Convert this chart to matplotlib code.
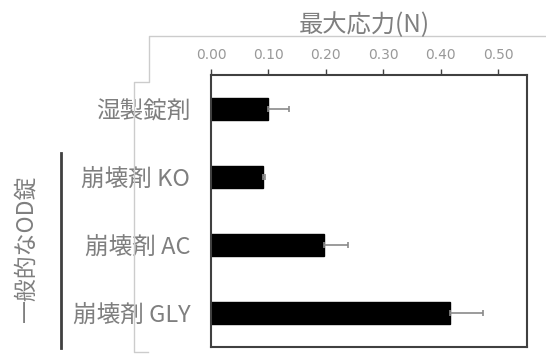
import matplotlib
matplotlib.use("Agg")
import matplotlib.pyplot as plt
from matplotlib.lines import Line2D

plt.rcParams['font.family'] = ['Noto Sans CJK JP', 'DejaVu Sans']

categories = ["湿製錠剤", "崩壊剤 KO", "崩壊剤 AC", "崩壊剤 GLY"]
max_stress = [0.10, 0.091, 0.197, 0.416]
stress_err = [0.035, 0.003, 0.041, 0.057]
tick_values = [0.00, 0.10, 0.20, 0.30, 0.40, 0.50]
tick_labels = ["0.00", "0.10", "0.20", "0.30", "0.40", "0.50"]
axis_title = "最大応力(N)"
group_label = "一般的なOD錠"

W, H = 546, 354
fig = plt.figure(figsize=(W / 100, H / 100), dpi=100)
ax = fig.add_axes([211 / W, 1 - 347 / H, 316 / W, 272 / H])

ypos = list(range(len(categories)))
ax.barh(ypos, max_stress, height=0.31, color="black", edgecolor="black")
ax.errorbar(max_stress, ypos, xerr=[[0] * len(stress_err), stress_err],
            fmt="none", ecolor="#8a8a8a", elinewidth=1.2, capsize=2.5, capthick=1.2)

ax.set_xlim(0, 0.55)
ax.set_ylim(3.5, -0.5)
ax.xaxis.tick_top()
ax.set_xticks(tick_values)
ax.set_xticklabels(tick_labels, family="DejaVu Sans")
ax.tick_params(axis="x", direction="out", length=4.2, width=1.0, color="#404040",
               labelsize=10, labelcolor="#999999", pad=5)
ax.set_yticks(ypos)
ax.set_yticklabels(categories)
ax.tick_params(axis="y", length=0, labelsize=17, labelcolor="#7f7f7f", pad=15)
for s in ax.spines.values():
    s.set_color("#404040")
    s.set_linewidth(1.5)

fig.text(364 / W, 1 - 25 / H, axis_title, ha="center", va="center",
         fontsize=17.5, color="#7f7f7f")
fig.text(26 / W, 1 - 248 / H, group_label, ha="center", va="center",
         rotation=90, fontsize=16.5, color="#7f7f7f")

def px_line(xs, ys, **kw):
    fig.add_artist(Line2D([x / W for x in xs], [1 - y / H for y in ys],
                          transform=fig.transFigure, **kw))

# group bracket
px_line([61, 61], [153, 348], color="#404040", lw=2)
# light frame lines of the plot area
frame_kw = dict(color="#cccccc", lw=1)
px_line([546, 149, 149, 134, 134, 148], [36, 36, 82, 82, 352, 352], **frame_kw)

fig.savefig("out.png", dpi=100, facecolor="white")
